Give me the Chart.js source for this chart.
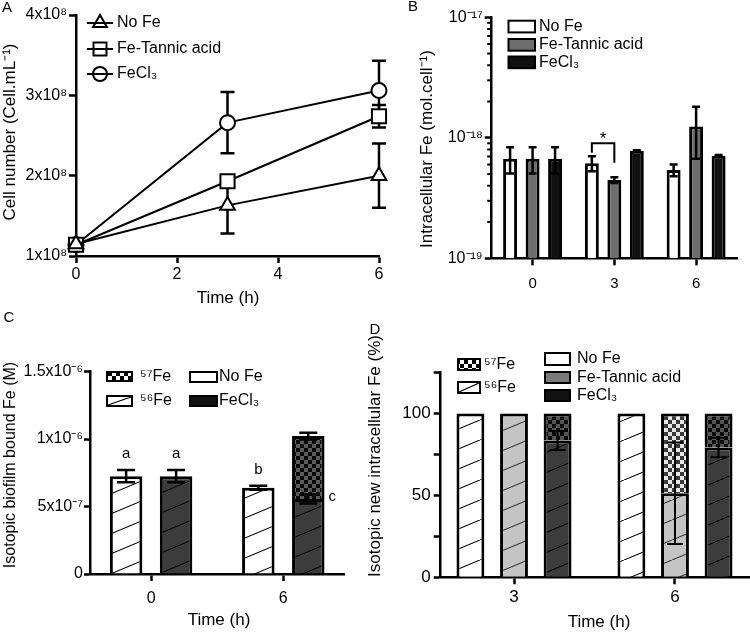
<!DOCTYPE html>
<html>
<head>
<meta charset="utf-8">
<title>Fe uptake panels</title>
<script src="https://cdn.jsdelivr.net/npm/chart.js@4.4.1/dist/chart.umd.min.js"></script>
<style>
  body { margin: 0; background: #fff; }
  #wrap { position: relative; width: 750px; height: 632px; overflow: hidden; }
  #wrap canvas { position: absolute; left: 0; top: 0; width: 750px; height: 632px; }
</style>
</head>
<body>
<div id="wrap">
  <canvas id="chartA" width="750" height="632"></canvas>
  <canvas id="chartB" width="750" height="632"></canvas>
  <canvas id="chartC" width="750" height="632"></canvas>
  <canvas id="chartD" width="750" height="632"></canvas>
</div>
<script>
// ---- values ----
// A: cell number
const timesA = [0, 3, 6];
const cellNoFe = [1.15e8, 1.63e8, 2.0e8];
const cellNoFeErr = [0, 0.35e8, 0.4e8];
const cellTannic = [1.14e8, 1.93e8, 2.74e8];
const cellTannicErr = [0, 0, 0.14e8];
const cellFeCl3 = [1.14e8, 2.66e8, 3.06e8];
const cellFeCl3Err = [0, 0.38e8, 0.37e8];
const cellTicks = [1e8, 2e8, 3e8, 4e8];
const cellTickLabels = ['1x10⁸', '2x10⁸', '3x10⁸', '4x10⁸'];
const timeTicksA = [0, 2, 4, 6];
const timeLabelsA = ['0', '2', '4', '6'];

// B: intracellular Fe (log axis)
const timeLabelsB = ['0', '3', '6'];
const intraNoFe = [6.7e-19, 6.15e-19, 5.4e-19];
const intraNoFeErr = [1.65e-19, 0.88e-19, 0.6e-19];
const intraTannic = [6.7e-19, 4.46e-19, 1.24e-18];
const intraTannicErr = [1.65e-19, 0.24e-19, 0.57e-18];
const intraFeCl3 = [6.7e-19, 7.8e-19, 7.1e-19];
const intraFeCl3Err = [1.65e-19, 0.1e-19, 0.1e-19];
const intraTicks = [1e-19, 2e-19, 3e-19, 4e-19, 5e-19, 6e-19, 7e-19, 8e-19, 9e-19,
                    1e-18, 2e-18, 3e-18, 4e-18, 5e-18, 6e-18, 7e-18, 8e-18, 9e-18, 1e-17];
const intraMajorTicks = [1e-19, 1e-18, 1e-17];
const intraMajorLabels = ['10⁻¹⁹', '10⁻¹⁸', '10⁻¹⁷'];
const sigPair = { index: 1, from: 0, to: 1, top: 9.0e-19, legs: [7.5e-19, 6.2e-19], mark: '*' };

// C: biofilm bound Fe
const timesC = [0, 6];
const timeLabelsC = ['0', '6'];
const boundNoFe56 = [7.25e-7, 6.39e-7];
const boundNoFe56Err = [0.45e-7, 0.15e-7];
const boundFeCl356 = [7.25e-7, 5.56e-7];
const boundFeCl356Err = [0.45e-7, 0.33e-7];
const boundFeCl357 = [null, 4.66e-7];
const boundFeCl357Err = [null, 0.25e-7];
const boundTicks = [0, 5e-7, 1e-6, 1.5e-6];
const boundTickLabels = ['0', '5x10⁻⁷', '1x10⁻⁶', '1.5x10⁻⁶'];
const boundLetters = [
  { ds: 0, index: 0, text: 'a', side: 'top' },
  { ds: 1, index: 0, text: 'a', side: 'top' },
  { ds: 0, index: 1, text: 'b', side: 'top' },
  { ds: 1, index: 1, text: 'c', side: 'right' }
];

// D: new intracellular Fe (%)
const timesD = [3, 6];
const timeLabelsD = ['3', '6'];
const pctNoFe56 = [100, 100];
const pctTannic56 = [100, 51.4];
const pctTannic56Err = [null, 31];
const pctTannic57 = [null, 48.6];
const pctFeCl356 = [83.6, 79.3];
const pctFeCl356Err = [5.8, 6.0];
const pctFeCl357 = [16.4, 20.7];
const pctTicks = [0, 25, 50, 75, 100, 125];
const pctTickLabels = ['0', '', '50', '', '100', ''];

// ---- look ----
const FONT = "'Liberation Sans', Arial, Helvetica, sans-serif";
const BLACK = '#111111';
const GRAY_B = '#6e6e6e';
const LIGHT = '#c4c4c4';
const DARK = '#3c3c3c';

Chart.defaults.font.family = FONT;
Chart.defaults.color = '#000';
Chart.defaults.animation = false;
Chart.defaults.responsive = false;
Chart.defaults.plugins.legend.display = false;
Chart.defaults.plugins.tooltip.enabled = false;
Chart.defaults.plugins.colors = { enabled: false };

function yOf(d) { return d !== null && typeof d === 'object' ? d.y : d; }
function pts(xs, ys) { return xs.map(function (x, i) { return { x: x, y: ys[i] }; }); }

function hatch(bg, fg) {
  const c = document.createElement('canvas');
  c.width = 48; c.height = 20;
  const g = c.getContext('2d');
  g.fillStyle = bg; g.fillRect(0, 0, 48, 20);
  g.strokeStyle = fg; g.lineWidth = 1.1;
  g.beginPath(); g.moveTo(0, 20); g.lineTo(48, 0); g.stroke();
  return g.createPattern(c, 'repeat');
}
function checker(a, b, s) {
  const c = document.createElement('canvas');
  c.width = c.height = 2 * s;
  const g = c.getContext('2d');
  g.fillStyle = a; g.fillRect(0, 0, 2 * s, 2 * s);
  g.fillStyle = b; g.fillRect(s, 0, s, s); g.fillRect(0, s, s, s);
  return g.createPattern(c, 'repeat');
}

function label(ctx, s, x, y, size, align) {
  ctx.save();
  ctx.fillStyle = '#000';
  ctx.font = size + 'px ' + FONT;
  ctx.textAlign = align || 'left';
  ctx.textBaseline = 'middle';
  ctx.fillText(s, x, y);
  ctx.restore();
}
function labelUp(ctx, s, x, y, size) {
  ctx.save();
  ctx.translate(x, y);
  ctx.rotate(-Math.PI / 2);
  label(ctx, s, 0, 0, size, 'center');
  ctx.restore();
}
function legendBox(ctx, x, y, w, h, fill) {
  ctx.save();
  ctx.fillStyle = fill; ctx.fillRect(x, y, w, h);
  ctx.strokeStyle = '#000'; ctx.lineWidth = 2; ctx.strokeRect(x, y, w, h);
  ctx.restore();
}
function hatchSwatch(ctx, x, y, w, h) {
  legendBox(ctx, x, y, w, h, '#fff');
  ctx.save();
  ctx.strokeStyle = '#000'; ctx.lineWidth = 1.2;
  ctx.beginPath(); ctx.moveTo(x + 1, y + h - 1); ctx.lineTo(x + w - 1, y + 1); ctx.stroke();
  ctx.restore();
}
function legendMarker(ctx, style, x, y) {
  ctx.save();
  ctx.strokeStyle = '#000'; ctx.fillStyle = '#fff'; ctx.lineWidth = 2;
  ctx.beginPath();
  if (style === 'triangle') {
    const r = 8;
    ctx.moveTo(x, y - r); ctx.lineTo(x + r * 0.866, y + r / 2); ctx.lineTo(x - r * 0.866, y + r / 2); ctx.closePath();
  } else if (style === 'rect') {
    ctx.rect(x - 6.5, y - 6.5, 13, 13);
  } else {
    ctx.arc(x, y, 7, 0, Math.PI * 2);
  }
  ctx.fill(); ctx.stroke();
  ctx.beginPath(); ctx.moveTo(x - 13, y); ctx.lineTo(x + 13, y); ctx.stroke();
  ctx.restore();
}

// error bars from each dataset's "errors" array, stacked segments measured from the stack top
function errorBars(chart, cap, lw) {
  const ctx = chart.ctx, ys = chart.scales.y;
  ctx.save();
  ctx.strokeStyle = '#000';
  ctx.lineWidth = lw;
  chart.data.datasets.forEach(function (ds, di) {
    if (!ds.errors) return;
    chart.getDatasetMeta(di).data.forEach(function (el, j) {
      const e = ds.errors[j], v = yOf(ds.data[j]);
      if (!e || v == null) return;
      let top = v;
      if (ds.stack) {
        top = 0;
        for (let k = 0; k <= di; k++) {
          const d2 = chart.data.datasets[k];
          if (d2.stack === ds.stack) top += yOf(d2.data[j]) || 0;
        }
      }
      const y1 = ys.getPixelForValue(top + e);
      const y2 = ys.getPixelForValue(top - e);
      const h = cap / 2;
      ctx.beginPath();
      ctx.moveTo(el.x, y1); ctx.lineTo(el.x, y2);
      ctx.moveTo(el.x - h, y1); ctx.lineTo(el.x + h, y1);
      ctx.moveTo(el.x - h, y2); ctx.lineTo(el.x + h, y2);
      ctx.stroke();
    });
  });
  ctx.restore();
}

function axis(o) {
  return {
    type: o.type || 'linear',
    min: o.min, max: o.max,
    offset: !!o.offset,
    bounds: 'data',
    stacked: o.stacked,
    afterFit: o.fit,
    afterBuildTicks: o.ticks ? function (s) { s.ticks = o.ticks.map(function (v) { return { value: v }; }); } : undefined,
    border: { display: true, color: '#000', width: 2.5 },
    grid: { drawOnChartArea: false, drawTicks: true, offset: false, tickLength: o.tickLength || 7, tickWidth: 2.5, tickColor: '#000' },
    ticks: {
      autoSkip: false, maxRotation: 0, padding: o.pad, color: '#000',
      font: { size: o.size, family: FONT },
      callback: function (v, i) { return o.labels[i]; }
    }
  };
}

// ---- A ----
const lineLook = { borderColor: '#000', backgroundColor: '#fff', borderWidth: 2, pointBackgroundColor: '#fff', pointBorderColor: '#000', pointBorderWidth: 2, tension: 0, clip: false, fill: false };
new Chart(document.getElementById('chartA'), {
  type: 'line',
  data: {
    datasets: [
      Object.assign({ label: 'No Fe', data: pts(timesA, cellNoFe), errors: cellNoFeErr, pointStyle: 'triangle', pointRadius: 8.5 }, lineLook),
      Object.assign({ label: 'Fe-Tannic acid', data: pts(timesA, cellTannic), errors: cellTannicErr, pointStyle: 'rect', pointRadius: 10 }, lineLook),
      Object.assign({ label: 'FeCl₃', data: pts(timesA, cellFeCl3), errors: cellFeCl3Err, pointStyle: 'circle', pointRadius: 7.5 }, lineLook)
    ]
  },
  options: {
    layout: { padding: { left: 0, top: 15, right: 750 - 379, bottom: 632 - 256 - 40 } },
    scales: {
      x: axis({ min: 0, max: 6, ticks: timeTicksA, labels: timeLabelsA, size: 16, pad: 2, fit: function (s) { s.height = 40; } }),
      y: axis({ min: 1e8, max: 4e8, ticks: cellTicks, labels: cellTickLabels, size: 16, pad: 2, fit: function (s) { s.width = 76; } })
    }
  },
  plugins: [{
    id: 'panelA',
    beforeDatasetsDraw: function (c) { errorBars(c, 14, 2.5); },
    afterDraw: function (c) {
      const ctx = c.ctx;
      label(ctx, 'A', 7, 8, 15, 'center');
      labelUp(ctx, 'Cell number (Cell.mL⁻¹)', 10, 132, 17);
      label(ctx, 'Time (h)', 228, 298, 17, 'center');
      const rows = [23, 49, 74];
      c.data.datasets.forEach(function (ds, i) {
        legendMarker(ctx, ds.pointStyle, 100, rows[i]);
        label(ctx, ds.label, 117, rows[i], 16);
      });
    }
  }]
});

// ---- B ----
function isMajorB(v) { return intraMajorTicks.findIndex(function (m) { return Math.abs(v / m - 1) < 1e-6; }); }
const yB = axis({ type: 'logarithmic', min: 1e-19, max: 1e-17, ticks: intraTicks, labels: [], size: 16, pad: 2, fit: function (s) { s.width = 491.7; } });
yB.ticks.callback = function (v) { const k = isMajorB(v); return k < 0 ? '' : intraMajorLabels[k]; };
yB.grid.tickColor = function (ctx) { return ctx.tick && isMajorB(ctx.tick.value) >= 0 ? '#000' : 'rgba(0,0,0,0)'; };

new Chart(document.getElementById('chartB'), {
  type: 'bar',
  data: {
    labels: timeLabelsB,
    datasets: [
      { label: 'No Fe', data: intraNoFe, errors: intraNoFeErr, backgroundColor: '#fff' },
      { label: 'Fe-Tannic acid', data: intraTannic, errors: intraTannicErr, backgroundColor: GRAY_B },
      { label: 'FeCl₃', data: intraFeCl3, errors: intraFeCl3Err, backgroundColor: BLACK }
    ]
  },
  options: {
    layout: { padding: { left: 0, top: 17.3, right: 750 - 737, bottom: 632 - 258.3 - 40 } },
    datasets: { bar: { borderColor: '#000', borderWidth: 3, categoryPercentage: 0.825, barPercentage: 0.62 } },
    scales: {
      x: axis({ type: 'category', offset: true, labels: timeLabelsB, size: 15, pad: 10, fit: function (s) { s.height = 40; } }),
      y: yB
    }
  },
  plugins: [{
    id: 'panelB',
    afterDatasetsDraw: function (c) { errorBars(c, 8, 2.5); },
    afterDraw: function (c) {
      const ctx = c.ctx, ys = c.scales.y, left = c.chartArea.left;
      ctx.save();
      ctx.strokeStyle = '#000'; ctx.lineWidth = 2;
      ys.ticks.forEach(function (t) {
        if (isMajorB(t.value) >= 0) return;
        const y = ys.getPixelForValue(t.value);
        ctx.beginPath(); ctx.moveTo(left - 4.5, y); ctx.lineTo(left, y); ctx.stroke();
      });
      const e0 = c.getDatasetMeta(sigPair.from).data[sigPair.index];
      const e1 = c.getDatasetMeta(sigPair.to).data[sigPair.index];
      const yb = ys.getPixelForValue(sigPair.top);
      ctx.beginPath();
      ctx.moveTo(e0.x, ys.getPixelForValue(sigPair.legs[0]));
      ctx.lineTo(e0.x, yb); ctx.lineTo(e1.x, yb);
      ctx.lineTo(e1.x, ys.getPixelForValue(sigPair.legs[1]));
      ctx.stroke();
      ctx.restore();
      label(ctx, sigPair.mark, (e0.x + e1.x) / 2, yb - 4, 17, 'center');

      label(ctx, 'B', 413, 7, 15, 'center');
      labelUp(ctx, 'Intracellular Fe (mol.cell⁻¹)', 427, 149, 17);
      const rows = [20.7, 39, 56.5];
      c.data.datasets.forEach(function (ds, i) {
        legendBox(ctx, 508.5, rows[i], 26.5, 11.7, ds.backgroundColor);
        label(ctx, ds.label, 539, rows[i] + 6, 16);
      });
    }
  }]
});

// ---- C ----
new Chart(document.getElementById('chartC'), {
  type: 'bar',
  data: {
    datasets: [
      { label: 'No Fe', stack: 'noFe', data: pts(timesC, boundNoFe56), errors: boundNoFe56Err, backgroundColor: hatch('#fff', '#000') },
      { label: 'FeCl₃ ⁵⁶Fe', stack: 'feCl3', data: pts(timesC, boundFeCl356), errors: boundFeCl356Err, backgroundColor: hatch(DARK, '#000') },
      { label: 'FeCl₃ ⁵⁷Fe', stack: 'feCl3', data: pts(timesC, boundFeCl357), errors: boundFeCl357Err, backgroundColor: checker('#0a0a0a', '#5a5a5a', 4) }
    ]
  },
  options: {
    layout: { padding: { left: 0, top: 371.5, right: 750 - 344, bottom: 632 - 574 - 40 } },
    datasets: { bar: { borderColor: '#000', borderWidth: 3, categoryPercentage: 0.756, barPercentage: 0.65 } },
    scales: {
      x: axis({ min: -2.773, max: 8.755, ticks: timesC, labels: timeLabelsC, size: 16, pad: 8, fit: function (s) { s.height = 40; } }),
      y: axis({ min: 0, max: 1.5e-6, stacked: true, ticks: boundTicks, labels: boundTickLabels, size: 16, pad: 1, tickLength: 6, fit: function (s) { s.width = 90; } })
    }
  },
  plugins: [{
    id: 'panelC',
    afterDatasetsDraw: function (c) { errorBars(c, 18, 2.5); },
    afterDraw: function (c) {
      const ctx = c.ctx, ys = c.scales.y;
      label(ctx, 'C', 9, 318, 15, 'center');
      labelUp(ctx, 'Isotopic biofilm bound Fe (M)', 11, 465, 16);
      label(ctx, 'Time (h)', 219, 620, 17, 'center');
      legendBox(ctx, 107, 372, 25, 9, checker('#000', '#fff', 4));
      label(ctx, '⁵⁷Fe', 140, 377, 16);
      hatchSwatch(ctx, 107, 396, 25, 10);
      label(ctx, '⁵⁶Fe', 140, 401, 16);
      legendBox(ctx, 190, 372, 27, 10, '#fff');
      label(ctx, 'No Fe', 219, 377, 16);
      legendBox(ctx, 190, 396, 27, 10, BLACK);
      label(ctx, 'FeCl₃', 219, 401, 16);
      boundLetters.forEach(function (L) {
        const ds = c.data.datasets[L.ds];
        const el = c.getDatasetMeta(L.ds).data[L.index];
        const v = yOf(ds.data[L.index]);
        const e = ds.errors[L.index] || 0;
        if (L.side === 'top') label(ctx, L.text, el.x, ys.getPixelForValue(v + e) - 16, 15, 'center');
        else label(ctx, L.text, el.x + el.width / 2 + 4, ys.getPixelForValue(v) - 2, 15, 'left');
      });
    }
  }]
});

// ---- D ----
new Chart(document.getElementById('chartD'), {
  type: 'bar',
  data: {
    datasets: [
      { label: 'No Fe', stack: 'noFe', data: pts(timesD, pctNoFe56), backgroundColor: hatch('#fff', '#000') },
      { label: 'Fe-Tannic acid ⁵⁶Fe', stack: 'tannic', data: pts(timesD, pctTannic56), errors: pctTannic56Err, backgroundColor: hatch(LIGHT, '#333') },
      { label: 'Fe-Tannic acid ⁵⁷Fe', stack: 'tannic', data: pts(timesD, pctTannic57), backgroundColor: checker('#3a3a3a', '#e8e8e8', 4) },
      { label: 'FeCl₃ ⁵⁶Fe', stack: 'feCl3', data: pts(timesD, pctFeCl356), errors: pctFeCl356Err, backgroundColor: hatch(DARK, '#000') },
      { label: 'FeCl₃ ⁵⁷Fe', stack: 'feCl3', data: pts(timesD, pctFeCl357), backgroundColor: checker('#0a0a0a', '#555555', 4) }
    ]
  },
  options: {
    layout: { padding: { left: 0, top: 372.7, right: 0, bottom: 632 - 577.3 - 40 } },
    datasets: { bar: { borderColor: '#000', borderWidth: 3, categoryPercentage: 0.812, barPercentage: 0.64 } },
    scales: {
      x: axis({ min: 1.634, max: 7.398, ticks: timesD, labels: timeLabelsD, size: 17, pad: 3, fit: function (s) { s.height = 40; } }),
      y: axis({ min: 0, max: 125, stacked: true, ticks: pctTicks, labels: pctTickLabels, size: 17, pad: 3, fit: function (s) { s.width = 440.7; } })
    }
  },
  plugins: [{
    id: 'panelD',
    afterDatasetsDraw: function (c) { errorBars(c, 16, 2); },
    afterDraw: function (c) {
      const ctx = c.ctx;
      label(ctx, 'D', 375, 330, 15, 'center');
      labelUp(ctx, 'Isotopic new intracellular Fe (%)', 375, 456, 17);
      label(ctx, 'Time (h)', 599, 622, 17, 'center');
      legendBox(ctx, 458, 359, 22, 11, checker('#000', '#fff', 4));
      label(ctx, '⁵⁷Fe', 484, 365, 16);
      hatchSwatch(ctx, 458, 382, 22, 11);
      label(ctx, '⁵⁶Fe', 484, 388, 16);
      legendBox(ctx, 545, 353, 25, 12, '#fff');
      label(ctx, 'No Fe', 577, 359, 16);
      legendBox(ctx, 545, 372, 25, 11, '#7a7a7a');
      label(ctx, 'Fe-Tannic acid', 577, 378, 16);
      legendBox(ctx, 545, 390, 25, 11, BLACK);
      label(ctx, 'FeCl₃', 577, 396, 16);
    }
  }]
});
</script>
</body>
</html>
